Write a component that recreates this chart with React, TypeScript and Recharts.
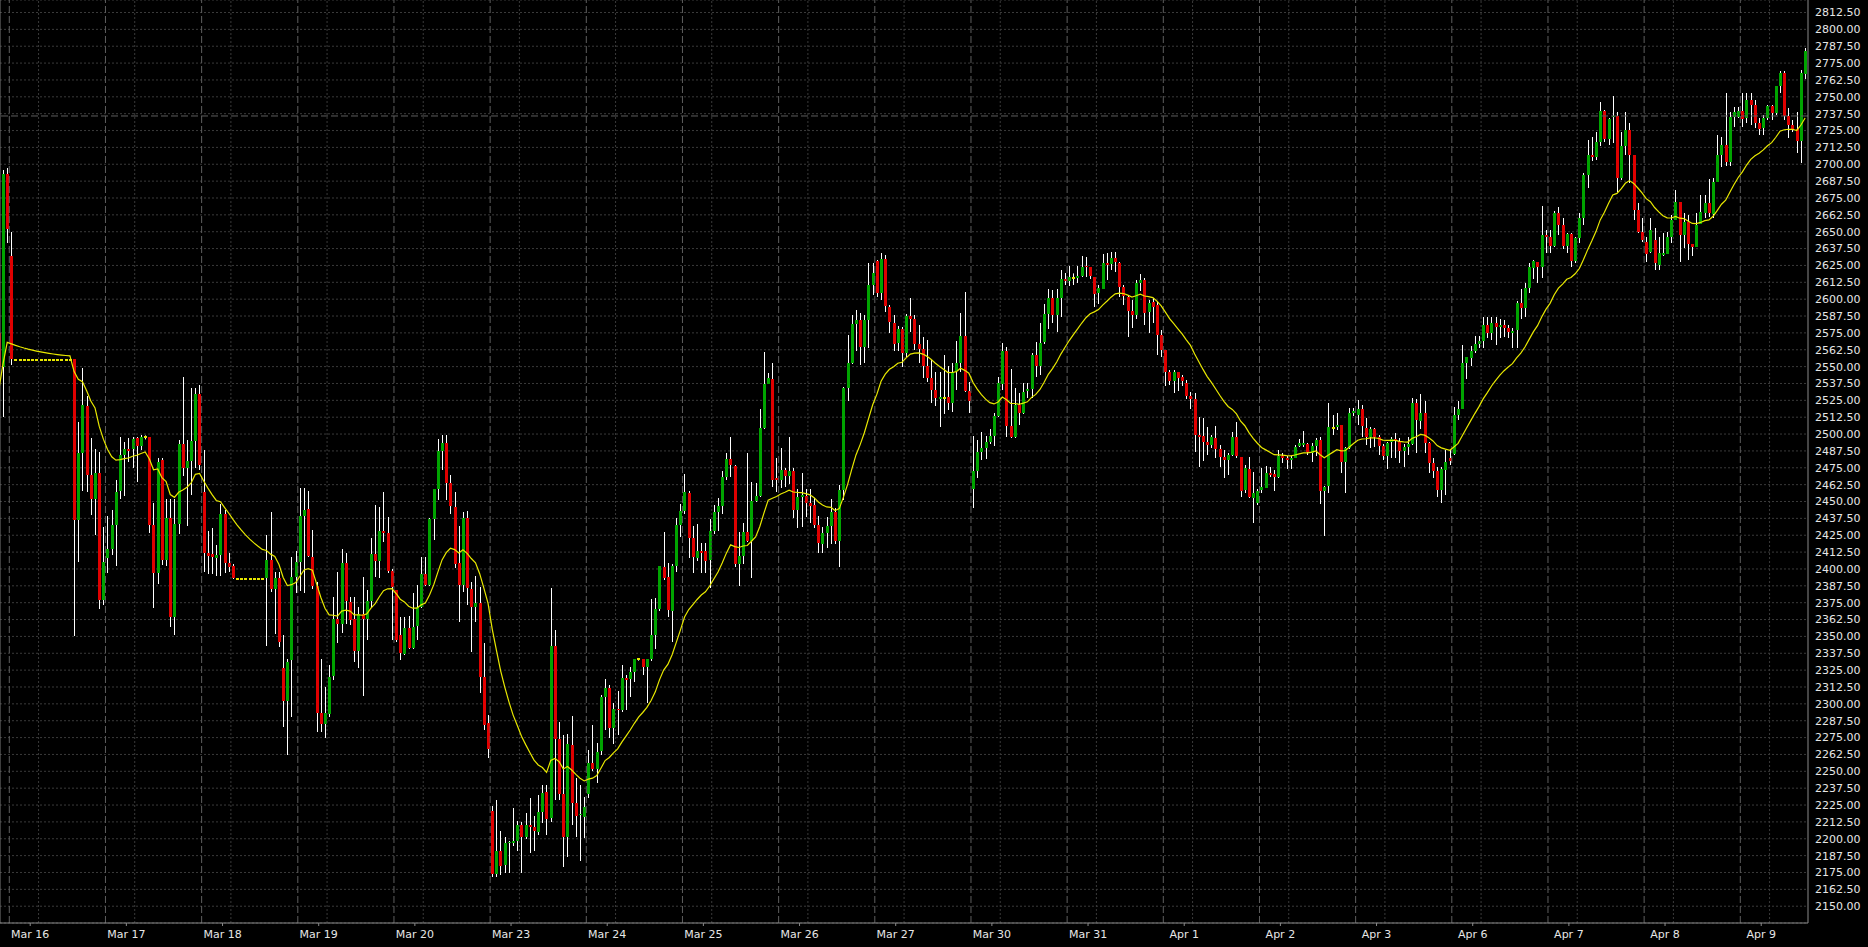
import React from 'react';
import { ComposedChart, Bar, Line, XAxis, YAxis, CartesianGrid, ReferenceLine } from 'recharts';

type OHLC = [number, number, number, number]; // open, high, low, close

const DAY_LABELS = ['Mar 16', 'Mar 17', 'Mar 18', 'Mar 19', 'Mar 20', 'Mar 23', 'Mar 24', 'Mar 25', 'Mar 26', 'Mar 27', 'Mar 30', 'Mar 31', 'Apr 1', 'Apr 2', 'Apr 3', 'Apr 6', 'Apr 7', 'Apr 8', 'Apr 9'];

const Y_TICKS = [2150, 2162.5, 2175, 2187.5, 2200, 2212.5, 2225, 2237.5, 2250, 2262.5, 2275, 2287.5, 2300, 2312.5, 2325, 2337.5, 2350, 2362.5, 2375, 2387.5, 2400, 2412.5, 2425, 2437.5, 2450, 2462.5, 2475, 2487.5, 2500, 2512.5, 2525, 2537.5, 2550, 2562.5, 2575, 2587.5, 2600, 2612.5, 2625, 2637.5, 2650, 2662.5, 2675, 2687.5, 2700, 2712.5, 2725, 2737.5, 2750, 2762.5, 2775, 2787.5, 2800, 2812.5];

const PRE: OHLC[] = [[2575, 2577, 2515, 2550], [2550, 2696, 2513, 2693], [2693, 2697, 2642, 2652]];

const MAR16: OHLC[] = [
  [2632, 2650, 2551, 2556],
  [2555, 2555, 2555, 2555], [2555, 2555, 2555, 2555], [2555, 2555, 2555, 2555], [2555, 2555, 2555, 2555],
  [2555, 2555, 2555, 2555], [2555, 2555, 2555, 2555], [2555, 2555, 2555, 2555], [2555, 2555, 2555, 2555],
  [2555, 2555, 2555, 2555], [2555, 2555, 2555, 2555], [2555, 2555, 2555, 2555], [2555, 2555, 2555, 2555],
  [2555, 2555, 2555, 2555], [2555, 2555, 2555, 2555],
  [2555.5, 2556, 2350, 2436], [2436, 2509, 2405, 2486], [2486, 2549, 2458, 2521.5], [2521, 2528, 2457, 2469.6],
  [2469.6, 2497, 2440, 2451.6], [2451.6, 2489, 2425, 2471], [2471, 2487, 2370, 2377], [2377, 2431, 2373, 2405],
];
const MAR17: OHLC[] = [
  [2408, 2439, 2397, 2415], [2415, 2444, 2410, 2432.6], [2432.6, 2466, 2402, 2457], [2458, 2498, 2452, 2484.5],
  [2484.5, 2494, 2454, 2488.7], [2488.7, 2497, 2479.5, 2487], [2488.7, 2498, 2474.6, 2496], [2496.8, 2498, 2464.7, 2491],
  [2491, 2499, 2488, 2497.6], [2497.6, 2499, 2496, 2497.6], [2497.6, 2498, 2426.4, 2432.6], [2432.6, 2448.6, 2370.8, 2397.2],
  [2397.2, 2482, 2389, 2479.5], [2480.8, 2482, 2403, 2406.7], [2406.7, 2452, 2402, 2437.5], [2437.5, 2452, 2357, 2364],
  [2364, 2452, 2351, 2433], [2433, 2495.6, 2426, 2492.6], [2492.6, 2542.5, 2469, 2474.6], [2474.6, 2495.6, 2432, 2480],
  [2480, 2534, 2454.8, 2495], [2495, 2534, 2474.6, 2529.7], [2529.7, 2536.4, 2473, 2477],
];
const MAR18: OHLC[] = [
  [2457, 2488, 2398, 2412], [2412, 2428, 2396, 2410], [2411, 2430, 2396, 2409], [2408, 2418, 2395, 2410],
  [2410, 2448, 2395, 2440.6], [2440.6, 2444, 2397, 2404.2], [2404.6, 2411.6, 2398, 2401.7], [2402.4, 2404, 2392.5, 2393.5],
  [2392.5, 2392.5, 2392.5, 2392.5], [2392.5, 2392.5, 2392.5, 2392.5], [2392.5, 2392.5, 2392.5, 2392.5], [2392.5, 2392.5, 2392.5, 2392.5],
  [2392.5, 2392.5, 2392.5, 2392.5], [2392.5, 2392.5, 2392.5, 2392.5], [2392.5, 2392.5, 2392.5, 2392.5],
  [2393.5, 2425.2, 2343.1, 2406.6], [2406.6, 2442.4, 2383, 2385.1], [2385, 2398, 2351.8, 2393.5], [2393.5, 2398, 2342.4, 2346.1],
  [2326.8, 2351, 2283, 2302.4], [2302.4, 2333, 2262, 2331.3], [2332, 2409, 2290.5, 2393.8], [2393.8, 2413, 2382, 2405],
];
const MAR19: OHLC[] = [
  [2405, 2459.8, 2384, 2439.3], [2439.3, 2459.8, 2382, 2443.7], [2444.2, 2458, 2409, 2409.1], [2409.1, 2428.9, 2385, 2387.4],
  [2387.4, 2390, 2279.4, 2293], [2293, 2333, 2279.4, 2285.1], [2285.1, 2312.7, 2274.4, 2293], [2293, 2328.8, 2290, 2320.2],
  [2320.2, 2379.5, 2318, 2362.7], [2362.7, 2398, 2345.4, 2359], [2359, 2414.5, 2352.3, 2404.2], [2404.2, 2411.6, 2359, 2375.7],
  [2375.7, 2379.5, 2358.5, 2362.7], [2362.7, 2379.5, 2331.3, 2338.7], [2338.7, 2372, 2326.3, 2366.4], [2366.4, 2394.3, 2305.8, 2362.9],
  [2362.9, 2384.4, 2347.3, 2376.2], [2376.2, 2422.7, 2372, 2411.1], [2411.1, 2447.4, 2394.3, 2406.1], [2406.1, 2445.7, 2393, 2428.1],
  [2428, 2457.3, 2420, 2426.5], [2427, 2438.8, 2397, 2398.7], [2398.7, 2400, 2347.3, 2386.9],
];
const MAR20: OHLC[] = [
  [2384.4, 2384.4, 2346.1, 2347.3], [2351, 2364.6, 2332.5, 2337.5], [2337.5, 2364.6, 2336, 2356.5], [2356.5, 2365.1, 2341, 2341.6],
  [2341.6, 2382, 2341, 2357.2], [2357.2, 2388.1, 2347.3, 2371.5], [2371.5, 2409.1, 2370.8, 2396.3], [2396.3, 2409.1, 2387, 2388.1],
  [2388.1, 2438, 2387.6, 2437], [2437, 2459.3, 2421.5, 2459.3], [2459.3, 2496.1, 2451.1, 2487.4], [2487.4, 2499.3, 2473.4, 2493.1],
  [2493.1, 2499.3, 2451.1, 2463.5], [2463.5, 2470, 2441, 2446.2], [2446.2, 2457.3, 2400.5, 2404.2], [2404.2, 2431.8, 2360.9, 2388.1],
  [2388.1, 2442.5, 2383.2, 2437.5], [2437.5, 2443.2, 2373.3, 2385.6], [2385.1, 2390.6, 2338.7, 2371.6], [2371.6, 2394.8, 2360.9, 2374.5],
  [2374.5, 2386.9, 2308.3, 2319.7], [2319.7, 2344.9, 2280.6, 2284.3], [2286, 2292, 2259.6, 2267],
];
const MAR23: OHLC[] = [
  [2220.9, 2224, 2172, 2174.4], [2174.4, 2228.7, 2172, 2191.2], [2191.2, 2206, 2173.1, 2179.8], [2180.5, 2201.5, 2174.4, 2197.1],
  [2196.8, 2198, 2174.9, 2197.6], [2197.1, 2223, 2195, 2198.3], [2198.3, 2212.8, 2191.2, 2210.2], [2210.2, 2212.4, 2174.4, 2201.5],
  [2201.5, 2218.9, 2199.6, 2210.2], [2210.2, 2230, 2189.6, 2208.5], [2208.5, 2216.9, 2191.2, 2205.3], [2205.3, 2232.4, 2202.8, 2220.1],
  [2220.1, 2239.8, 2211.4, 2234.2], [2234.9, 2239.8, 2202.8, 2215.2], [2215.2, 2385.6, 2212.7, 2342.9], [2342.9, 2354.8, 2228.7, 2273.7],
  [2273.7, 2286.8, 2229, 2233.2], [2233.2, 2276.9, 2179.3, 2201.5], [2201.5, 2277.7, 2186.7, 2270.2], [2269.5, 2291, 2210.2, 2226.3],
  [2226.3, 2244.8, 2201.5, 2216.9], [2216.9, 2239.8, 2183.7, 2218], [2216.4, 2231.2, 2200.3, 2223.8],
];
const MAR24: OHLC[] = [
  [2233.7, 2265.8, 2230, 2256.4], [2256.4, 2284.3, 2250, 2252.2], [2252.2, 2271.2, 2241, 2264.6], [2264.6, 2306.6, 2262, 2304.8],
  [2304.8, 2318.2, 2280.6, 2311.5], [2311.5, 2314, 2274.4, 2281.9], [2281.9, 2300.4, 2270.2, 2296], [2296, 2309.8, 2276.9, 2295],
  [2296, 2328.8, 2294, 2319.4], [2319.4, 2321.5, 2295.4, 2318.2], [2318.2, 2327, 2304.8, 2323.4], [2323.4, 2333, 2316.5, 2333],
  [2333, 2334, 2332, 2333], [2333, 2333.5, 2321.5, 2326.8], [2326.8, 2333.5, 2300.4, 2333], [2333, 2377.5, 2332, 2351],
  [2351, 2378.2, 2340.4, 2370.1], [2370.1, 2402.2, 2369, 2402.2], [2401.7, 2427.6, 2392, 2393.8], [2393.8, 2404.2, 2364.6, 2369.1],
  [2369.1, 2404, 2346.1, 2402.2], [2402.2, 2437.5, 2398, 2432.6], [2432.6, 2448.2, 2424, 2443],
];
const MAR25: OHLC[] = [
  [2443, 2470.4, 2441, 2456.8], [2456, 2458, 2408.4, 2422.7], [2422.7, 2431.9, 2396.8, 2408.4], [2408.4, 2433.1, 2406, 2413.3],
  [2413.3, 2419, 2397, 2412.1], [2413.3, 2419, 2397, 2405.9], [2406.6, 2436.8, 2385.6, 2428.1], [2428.1, 2447.4, 2426, 2442],
  [2442, 2452.8, 2428.1, 2446.7], [2446.7, 2472.9, 2440.5, 2467.9], [2467.9, 2486.2, 2466, 2481.3], [2481.3, 2497.6, 2468, 2477.1],
  [2476.3, 2477, 2401.5, 2403.4], [2403.4, 2427.6, 2387.4, 2409.6], [2409.6, 2433.8, 2403.4, 2427.6], [2427.6, 2486.2, 2420, 2421],
  [2421, 2464.7, 2393.1, 2450.6], [2450.6, 2464, 2449.9, 2454.1], [2454.1, 2518.3, 2453, 2504.7], [2504.7, 2560.6, 2504, 2537.1],
  [2537.1, 2545, 2537, 2541.3], [2540.6, 2552.4, 2461, 2465.9], [2467.2, 2482.5, 2457.3, 2466],
];
const MAR26: OHLC[] = [
  [2466, 2489.4, 2460, 2473.4], [2473.4, 2475, 2461, 2468.9], [2468.9, 2498.1, 2463, 2472.9], [2472.9, 2474.7, 2437.5, 2444.2],
  [2444.2, 2459, 2430.1, 2453.6], [2453.6, 2470.9, 2431.3, 2454.8], [2454.1, 2459, 2438.3, 2449.2], [2449.2, 2459, 2433.8, 2446.7],
  [2447.4, 2452.3, 2430, 2432.6], [2432.6, 2439.3, 2411.6, 2419], [2419, 2431.3, 2411.6, 2426.9], [2426.9, 2438.8, 2415.3, 2431.9],
  [2431.9, 2451.6, 2418.5, 2442.5], [2442.5, 2445, 2418.5, 2421], [2421, 2462, 2401.7, 2458.5], [2458.5, 2535, 2451.1, 2533.9],
  [2533.9, 2573.4, 2524.7, 2552.4], [2552.4, 2588.3, 2552, 2581.6], [2581.6, 2592, 2561.8, 2584.6], [2584.6, 2589.5, 2551.2, 2564.8],
  [2564.8, 2588.3, 2552.4, 2584.6], [2584.6, 2626.6, 2563.5, 2610.5], [2610.5, 2626.6, 2603.1, 2619.6],
];
const MAR27: OHLC[] = [
  [2628.3, 2629, 2601.8, 2604.3], [2604.3, 2634.5, 2599.4, 2629.5], [2629.5, 2632.7, 2590.7, 2594.4], [2594, 2595.7, 2575.2, 2582.6],
  [2582.6, 2588, 2561.8, 2567.3], [2567.3, 2580, 2561.8, 2577.9], [2577.9, 2579.1, 2549.9, 2560.3], [2560.3, 2589, 2557.4, 2587.5],
  [2587.5, 2600.6, 2575.9, 2585.1], [2585.1, 2588.3, 2562.3, 2566.8], [2566.8, 2580.9, 2552.4, 2562.8], [2562.8, 2572.2, 2541.3, 2550.5],
  [2550.5, 2569.7, 2538.8, 2541.3], [2541.3, 2554.9, 2522.8, 2532.7], [2532.7, 2546.2, 2520.8, 2526.5], [2526.5, 2546.2, 2505, 2527.7],
  [2527, 2558.6, 2514.9, 2527], [2527.7, 2550.5, 2517.8, 2523.3], [2523.3, 2553, 2516.6, 2546.2], [2546.2, 2569.2, 2532.7, 2552.4],
  [2552.4, 2589.5, 2546, 2572.7], [2572.7, 2605.5, 2531, 2532.2], [2532.2, 2538.8, 2515.9, 2524.8],
];
const MAR30: OHLC[] = [
  [2459.8, 2498.6, 2444.9, 2472.9], [2472.9, 2495.6, 2467.2, 2487], [2487, 2501.8, 2480.8, 2489.9], [2489.9, 2498.6, 2481.3, 2494.4],
  [2494.4, 2503.5, 2493, 2498.6], [2498.6, 2515.4, 2491.1, 2513.4], [2513.4, 2542.5, 2513, 2537.6], [2537.6, 2567.3, 2532.7, 2561.8],
  [2561.8, 2564.3, 2498.1, 2506], [2506, 2548, 2497, 2498.1], [2498.1, 2533.9, 2496.9, 2521.5], [2521.5, 2530.2, 2506.7, 2515.9],
  [2515.9, 2537.6, 2515, 2531.4], [2531.4, 2537.6, 2527, 2533.2], [2533.2, 2560.3, 2526.5, 2558.6], [2558.6, 2568.5, 2542.5, 2550.5],
  [2550.5, 2582.1, 2543.8, 2567.8], [2567.8, 2596.4, 2567, 2588.7], [2588.7, 2607.3, 2577.6, 2600.6], [2600.6, 2606.8, 2582.1, 2588.3],
  [2588.3, 2607.3, 2575.9, 2600.6], [2600.6, 2621.6, 2586.5, 2614.7], [2614.7, 2619.6, 2610.5, 2613],
];
const MAR31: OHLC[] = [
  [2613, 2624.6, 2609.7, 2616.2], [2616, 2619.1, 2610.5, 2616], [2616, 2624.6, 2611.7, 2617.2], [2617.2, 2632, 2616.7, 2624.1],
  [2624.6, 2631.5, 2616.7, 2623.6], [2623.6, 2624.1, 2614.7, 2616.7], [2616.7, 2616.7, 2594.4, 2604.3], [2604.3, 2610.5, 2596.4, 2608],
  [2608, 2633.5, 2608, 2627], [2627, 2634, 2614.2, 2625.8], [2625.8, 2635.2, 2621.6, 2630.3], [2630.3, 2635.2, 2620.4, 2627],
  [2627, 2627.8, 2601.8, 2609.3], [2608.8, 2610.5, 2595.7, 2601.8], [2601.8, 2603, 2572.2, 2591.5], [2591.5, 2599.4, 2578.4, 2588.3],
  [2588.3, 2614, 2585, 2612], [2612, 2619, 2606, 2614.2], [2614.2, 2616, 2580.8, 2590], [2590, 2599.4, 2575.2, 2596.9],
  [2598.1, 2600.6, 2582.1, 2594.4], [2595.7, 2598.1, 2558.6, 2573.4], [2573.4, 2577.1, 2557.4, 2562.3],
];
const APR1: OHLC[] = [
  [2562.3, 2562.3, 2535.6, 2546.2], [2546.2, 2547.5, 2536.4, 2539.6], [2539.6, 2547.5, 2530.2, 2546.2], [2546.2, 2546.2, 2532.2, 2542],
  [2542, 2543.8, 2535.6, 2538.8], [2538.1, 2540, 2526, 2528.2], [2528.2, 2531.4, 2518.3, 2526], [2526, 2530.7, 2486.9, 2499.3],
  [2499.3, 2512.9, 2475.8, 2498.1], [2498.8, 2511.6, 2480, 2494.4], [2494.4, 2505.5, 2484.5, 2491.9], [2491.9, 2499, 2489.4, 2497.6],
  [2497.1, 2506, 2482, 2488.9], [2488.9, 2491.9, 2475.8, 2483.2], [2483.2, 2488, 2467.2, 2480.8], [2480.8, 2486, 2469.6, 2484.5],
  [2484.5, 2501.8, 2483.7, 2497.6], [2497.6, 2509.2, 2482, 2483.2], [2483.2, 2483.2, 2453.1, 2458], [2458, 2477.1, 2456, 2474.6],
  [2474.1, 2482.7, 2452.4, 2453.1], [2453.1, 2472.1, 2433.8, 2456.6], [2449.1, 2459, 2447.4, 2458],
];
const APR2: OHLC[] = [
  [2458, 2474.6, 2456, 2460.5], [2460.5, 2476.3, 2459.7, 2471.4], [2471.4, 2475.8, 2468.4, 2469.6], [2470.4, 2473, 2458, 2467.9],
  [2467.9, 2488.2, 2467.2, 2483.7], [2483.7, 2485.7, 2478.8, 2482], [2482, 2483.7, 2473.8, 2480.3], [2480.8, 2483.7, 2473.8, 2482],
  [2482.5, 2491.9, 2482, 2490.6], [2491.1, 2496.1, 2490.6, 2493.1], [2491.4, 2502.3, 2490.6, 2493.1], [2492.6, 2493.1, 2484.5, 2486.9],
  [2486.2, 2493.1, 2479.5, 2491.4], [2491.4, 2496.8, 2484, 2495.6], [2495.6, 2498.1, 2448.1, 2458], [2458, 2461.5, 2424.4, 2461],
  [2461, 2522.8, 2456.6, 2505], [2504.2, 2514.1, 2499.3, 2504.2], [2505, 2515.4, 2503, 2506.7], [2506.7, 2506.7, 2471.4, 2479.5],
  [2479.5, 2490.6, 2456, 2489.9], [2489.9, 2519.1, 2489, 2515.9], [2515.9, 2519.1, 2513.7, 2517.1],
];
const APR3: OHLC[] = [
  [2514.1, 2525.2, 2506.7, 2518.3], [2518.3, 2521.5, 2498.1, 2505.5], [2504.7, 2511.7, 2491.9, 2498.1], [2498.1, 2505.5, 2489.4, 2503.7],
  [2503.7, 2504.2, 2490.6, 2498.1], [2498.1, 2499.3, 2484.5, 2491.2], [2491.2, 2492.6, 2480.8, 2483.7], [2483.7, 2494.4, 2473.8, 2493.6],
  [2493.6, 2498.1, 2482, 2496.1], [2496.1, 2500.5, 2482, 2495.1], [2495.1, 2496.9, 2478.8, 2487.7], [2487.7, 2493, 2475.8, 2490.6],
  [2490.6, 2498.1, 2484.5, 2492.6], [2492.6, 2526.5, 2492, 2522.8], [2522.8, 2525.7, 2485.7, 2509.9], [2509.9, 2529.7, 2504, 2515.9],
  [2515.9, 2524.8, 2485.7, 2493.6], [2493.6, 2494, 2470.9, 2478.8], [2478.8, 2482, 2467.2, 2472.9], [2472.9, 2475.8, 2453.6, 2458.5],
  [2458.5, 2475.8, 2448.6, 2473.8], [2473.8, 2488.2, 2454.8, 2479.5], [2482.5, 2488.2, 2477, 2480],
];
const APR6: OHLC[] = [
  [2485.2, 2520.3, 2484.5, 2514.1], [2514.1, 2524.8, 2510.5, 2518.3], [2518.3, 2566, 2518.3, 2552.4], [2552.4, 2554.5, 2540.5, 2556.9],
  [2556.9, 2565.3, 2550.5, 2561.8], [2561.8, 2572.7, 2559.8, 2566.8], [2566.8, 2572.7, 2563.5, 2569.2], [2569.2, 2586.5, 2563.5, 2580.9],
  [2580.9, 2586.5, 2571, 2574.7], [2574.7, 2587, 2569.7, 2582.1], [2582.1, 2586.5, 2566, 2579.1], [2579.1, 2585.1, 2571, 2580.9],
  [2580.9, 2584.6, 2572.2, 2578.4], [2578.4, 2580.9, 2571, 2575.2], [2575.2, 2578.9, 2563.5, 2576.6], [2576.6, 2598.9, 2563.5, 2596.9],
  [2596.9, 2607.3, 2585.1, 2593.2], [2593.2, 2611.7, 2587, 2608], [2608, 2626.6, 2604.8, 2623.6], [2623.6, 2629, 2614.7, 2628.6],
  [2627.8, 2627.8, 2611.7, 2624.1], [2624.1, 2669, 2615.4, 2647.6], [2647.6, 2651.3, 2634.5, 2646.3],
];
const APR7: OHLC[] = [
  [2646.3, 2651.3, 2634.5, 2639.4], [2639.4, 2665.6, 2638.9, 2664.1], [2664.1, 2668.5, 2647.6, 2655], [2655, 2660, 2636.9, 2639.4],
  [2639.4, 2649, 2634, 2648.3], [2648.3, 2649, 2624.1, 2628.6], [2627.8, 2646, 2626.5, 2645.1], [2645.1, 2664.1, 2641.4, 2659.9],
  [2659.9, 2693.3, 2655, 2692], [2692, 2718, 2682.1, 2706.9], [2706.9, 2720.4, 2702.7, 2705.6], [2705.6, 2724.2, 2703, 2716.7],
  [2716.7, 2746.4, 2713.5, 2739.5], [2739.5, 2740, 2716.7, 2718.5], [2718.5, 2734, 2714.3, 2733.5], [2735.3, 2750.6, 2715.5, 2735.8],
  [2735.8, 2739, 2679.7, 2689.6], [2689.6, 2724.2, 2688.4, 2713.5], [2713.5, 2739, 2706.9, 2725.4], [2725.4, 2730.3, 2685.8, 2706.9],
  [2706.9, 2706.9, 2658.7, 2666.1], [2666.1, 2671, 2648.8, 2650], [2650, 2659.9, 2642.6, 2644.3],
];
const APR8: OHLC[] = [
  [2642.6, 2646, 2627.8, 2633.9], [2635.2, 2659.9, 2634, 2651.3], [2643.8, 2652.5, 2621.6, 2626.5], [2625.3, 2646.3, 2621.6, 2633.9],
  [2632.7, 2648.8, 2632, 2634.4], [2633.9, 2650, 2633.9, 2646.3], [2646.3, 2662.3, 2641.4, 2658.7], [2658.7, 2680.9, 2658.7, 2672.3],
  [2672.3, 2672.3, 2627.8, 2647.6], [2647.6, 2663.6, 2637.7, 2657.4], [2657.4, 2662.3, 2629, 2640.9], [2640.9, 2641, 2632, 2638.9],
  [2638.9, 2663.6, 2638.9, 2655], [2656.2, 2677.2, 2656, 2664.8], [2663.6, 2677.2, 2659.9, 2671], [2671, 2688.8, 2660.6, 2663.6],
  [2663.6, 2689.5, 2659.9, 2687.1], [2687.1, 2721.7, 2687.1, 2706.9], [2706.9, 2720.4, 2698.2, 2714.3], [2714.3, 2753.1, 2698.7, 2701.9],
  [2701.9, 2739, 2698.7, 2735.3], [2735.3, 2742.7, 2727.9, 2739], [2735, 2742.7, 2734, 2739.7],
];
const APR9: OHLC[] = [
  [2739.7, 2752.6, 2727.4, 2734], [2734, 2752.6, 2730.3, 2747.6], [2747.6, 2752.6, 2729.1, 2743.9], [2743.9, 2747.6, 2726.6, 2730.8],
  [2730.8, 2734, 2721.7, 2726.6], [2726.6, 2736.5, 2721.7, 2734], [2734, 2744, 2732.8, 2743.2], [2743.2, 2744, 2732.8, 2737.7],
  [2737.7, 2758, 2736.5, 2758], [2758, 2769.4, 2753.1, 2767.4], [2767.4, 2769.4, 2732.8, 2735.8], [2735.8, 2741.4, 2719.2, 2729.1],
  [2729.1, 2732.8, 2724.2, 2725.9], [2725.9, 2739, 2708.1, 2716.7], [2716.7, 2770, 2700.7, 2767.4], [2767.4, 2785.9, 2763, 2784.2],
];

const SESSIONS: OHLC[][] = [MAR16, MAR17, MAR18, MAR19, MAR20, MAR23, MAR24, MAR25, MAR26, MAR27, MAR30, MAR31, APR1, APR2, APR3, APR6, APR7, APR8, APR9];

// moving-average values for the bars before the first session
const MA_LEAD = [2533, 2552, 2568];
const MA_PERIOD = 20;
const PRICE_LINE = 2735.8;

const SLOTS_PER_DAY = 23;
const LABEL_SLOT = 5;
const MINOR_SLOT = 7;
const X_MIN = -2.224;
const X_MAX = 430.19;
const Y_MIN = 2137.55;
const Y_MAX = 2821.77;

const GREEN = '#00a400';
const RED = '#e00000';
const YELLOW = '#e8e800';

type Row = { u: number; open: number; high: number; low: number; close: number; range: [number, number]; ma: number };

function buildRows(): Row[] {
  const items: { s: number; c: OHLC }[] = [];
  PRE.forEach((c, k) => items.push({ s: k - PRE.length, c }));
  SESSIONS.forEach((day, d) => day.forEach((c, k) => items.push({ s: d * SLOTS_PER_DAY + k, c })));
  const alpha = 2 / (MA_PERIOD + 1);
  let ma = 0;
  return items.map(({ s, c }, i) => {
    const [o, h, l, cl] = c;
    ma = i < MA_LEAD.length ? MA_LEAD[i] : ma + alpha * (cl - ma);
    return { u: s + 0.5, open: o, high: h, low: l, close: cl, range: [l, h], ma };
  });
}

const ROWS = buildRows();

function Candle(props: any) {
  const { x, y, width, height, payload } = props;
  if (payload == null || x == null || y == null) return null;
  const { open, high, low, close } = payload as Row;
  const top = Math.min(y, y + (height || 0));
  const bot = Math.max(y, y + (height || 0));
  const span = high - low;
  const yAt = (p: number) => (span > 0 ? top + ((high - p) / span) * (bot - top) : top);
  const cx = Math.floor(x + width / 2);
  const yo = yAt(open);
  const yc = yAt(close);
  if (open === close) {
    return (
      <g>
        {span > 0 && <line x1={cx + 0.5} x2={cx + 0.5} y1={top} y2={bot} stroke="#ffffff" strokeWidth={1} />}
        <rect x={cx - 1} y={Math.round(yo) - 1} width={3} height={2} fill={YELLOW} />
      </g>
    );
  }
  const bTop = Math.round(Math.min(yo, yc));
  const bH = Math.max(1, Math.round(Math.abs(yo - yc)));
  return (
    <g>
      <line x1={cx + 0.5} x2={cx + 0.5} y1={Math.round(top)} y2={Math.round(bot)} stroke="#ffffff" strokeWidth={1} />
      <rect x={cx - 1} y={bTop} width={3} height={bH} fill={close > open ? GREEN : RED} />
    </g>
  );
}

export default function App() {
  const labelTicks = DAY_LABELS.map((_, d) => d * SLOTS_PER_DAY + LABEL_SLOT);
  const fontStyle = { fill: '#e6e6e6', fontSize: 11, fontFamily: 'DejaVu Sans' };
  return (
    <div style={{ position: 'absolute', left: 0, top: 0, width: 1868, height: 947, background: '#000' }}>
      <ComposedChart width={1868} height={947} data={ROWS} margin={{ top: 0, right: 0, bottom: 0, left: 0 }}>
        <CartesianGrid vertical={false} stroke="#3a3a3a" strokeDasharray="2 2" />
        {DAY_LABELS.map((_, d) => (
          <ReferenceLine key={'m' + d} x={d * SLOTS_PER_DAY + MINOR_SLOT} stroke="#3a3a3a" strokeDasharray="2 2" />
        ))}
        {DAY_LABELS.map((_, d) => (
          <ReferenceLine key={'d' + d} x={d * SLOTS_PER_DAY} stroke="#5e5e5e" strokeDasharray="7 3" />
        ))}
        <ReferenceLine y={PRICE_LINE} stroke="#5e5e5e" strokeDasharray="7 3" />
        <ReferenceLine x={X_MIN} stroke="#7a7a7a" />
        <XAxis
          type="number"
          dataKey="u"
          domain={[X_MIN, X_MAX]}
          allowDataOverflow
          ticks={labelTicks}
          interval={0}
          tickFormatter={(v: number) => DAY_LABELS[Math.round((v - LABEL_SLOT) / SLOTS_PER_DAY)] ?? ''}
          height={24}
          tickSize={3}
          tickMargin={4}
          axisLine={{ stroke: '#8a8a8a' }}
          tickLine={{ stroke: '#8a8a8a' }}
          tick={fontStyle}
        />
        <YAxis
          type="number"
          orientation="right"
          domain={[Y_MIN, Y_MAX]}
          allowDataOverflow
          ticks={Y_TICKS}
          interval={0}
          tickFormatter={(v: number) => v.toFixed(2)}
          width={60}
          tickSize={0}
          tickMargin={7}
          tickLine={false}
          axisLine={{ stroke: '#8a8a8a' }}
          tick={fontStyle}
        />
        <Bar dataKey="range" barSize={3} shape={Candle} isAnimationActive={false} />
        <Line dataKey="ma" type="linear" stroke={YELLOW} strokeWidth={1.2} dot={false} activeDot={false} isAnimationActive={false} />
      </ComposedChart>
    </div>
  );
}
